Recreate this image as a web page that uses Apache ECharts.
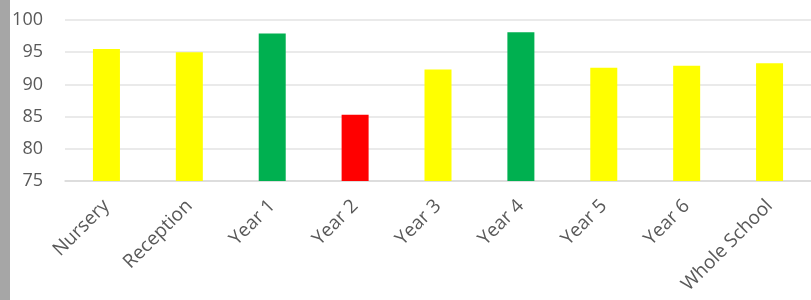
<!DOCTYPE html>
<html>
<head>
<meta charset="utf-8">
<script src="https://cdn.jsdelivr.net/npm/echarts@6/dist/echarts.min.js"></script>
<style>
  html, body { margin: 0; padding: 0; background: #fff; }
  #chart { width: 811px; height: 300px; }
</style>
</head>
<body>
<div id="chart"></div>
<script>
const categories = ['Nursery', 'Reception', 'Year 1', 'Year 2', 'Year 3', 'Year 4', 'Year 5', 'Year 6', 'Whole School']
const values = [95.5, 95.0, 97.9, 85.3, 92.3, 98.1, 92.6, 92.9, 93.3]
const barColors = ['#FFFF00', '#FFFF00', '#00B050', '#FF0000', '#FFFF00', '#00B050', '#FFFF00', '#FFFF00', '#FFFF00']

const chart = echarts.init(document.getElementById('chart'))

chart.setOption({
  animation: false,
  graphic: [
    // grey strip on the left edge
    { type: 'rect', left: 0, top: 0, shape: { width: 10, height: 300 }, style: { fill: '#a6a6a6' } }
  ],
  grid: { left: 65, right: -13, top: 20, bottom: 119 },
  xAxis: {
    type: 'category',
    data: categories,
    axisLine: { show: true, lineStyle: { color: '#d9d9d9', width: 1.5 } },
    axisTick: { show: false },
    axisLabel: {
      rotate: 45,
      interval: 0,
      margin: 22,
      color: '#595959',
      fontSize: 19,
      fontFamily: 'Open Sans'
    }
  },
  yAxis: {
    type: 'value',
    min: 75,
    max: 100,
    interval: 5,
    axisLine: { show: false },
    axisTick: { show: false },
    axisLabel: { color: '#595959', fontSize: 18, fontFamily: 'Open Sans', margin: 22 },
    splitLine: { lineStyle: { color: '#e3e3e3', width: 1.5 } }
  },
  series: [
    {
      type: 'bar',
      barWidth: 27,
      data: values.map((v, i) => ({ value: v, itemStyle: { color: barColors[i] } }))
    }
  ]
})
</script>
</body>
</html>
